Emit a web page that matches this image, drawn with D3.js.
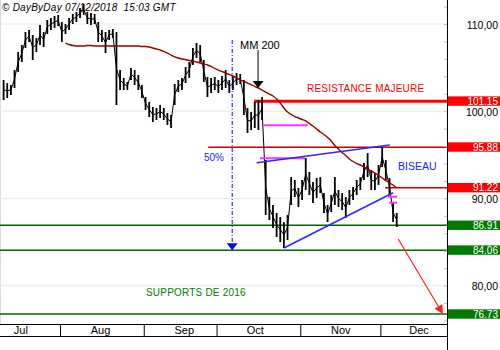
<!DOCTYPE html>
<html>
<head>
<meta charset="utf-8">
<script src="https://cdn.jsdelivr.net/npm/d3@7"></script>
<style>
body { margin: 0; background: #fff; }
svg { display: block; font-family: "Liberation Sans", Arial, sans-serif; }
</style>
</head>
<body>
<svg id="chart" width="500" height="350"></svg>
<script>
// daily bars, 10 Jul 2018 -> 7 Dec 2018 (trading day index)
var highs = [
	103.58, 103.23, 103.00, 104.72, 106.79, 107.59, 109.08, 109.31, 108.74, 108.39,
	109.89, 109.08, 110.46, 110.69, 110.92, 111.03, 110.23, 110.00, 110.69, 111.15,
	111.38, 111.83, 112.29, 111.38, 111.26, 111.15, 110.23, 109.31, 109.08, 109.31,
	109.43, 109.08, 104.72, 103.81, 103.35, 104.95, 104.72, 104.15, 103.00, 101.63,
	101.06, 100.48, 100.37, 100.71, 100.37, 99.79, 99.56, 103.12, 103.58, 103.81,
	105.07, 105.64, 107.25, 107.82, 107.59, 105.87, 103.92, 103.81, 103.92, 103.58,
	104.04, 104.72, 103.58, 104.04, 104.38, 104.27, 103.58, 100.37, 99.91, 101.06,
	101.28, 101.63, 94.40, 90.16, 89.24, 88.33, 87.87, 87.29, 88.10, 92.45,
	92.11, 91.19, 92.11, 94.63, 93.03, 91.88, 92.34, 92.45, 90.62, 89.24,
	90.39, 92.45, 90.96, 90.62, 90.16, 90.96, 91.31, 92.11, 92.45, 94.06,
	95.21, 93.26, 92.91, 93.83, 95.89, 94.40, 92.34, 89.47, 88.33
];
var lows = [
	101.28, 101.51, 101.86, 102.66, 104.50, 105.64, 107.25, 107.94, 105.87, 106.79,
	107.59, 107.36, 108.85, 109.31, 109.54, 109.77, 107.94, 108.85, 109.31, 110.00,
	110.23, 110.69, 111.03, 110.00, 109.89, 110.00, 107.94, 107.94, 106.67, 108.17,
	108.39, 100.71, 102.43, 102.43, 102.43, 103.58, 103.00, 102.43, 101.51, 100.14,
	99.33, 98.76, 98.99, 99.22, 98.99, 98.42, 98.07, 100.71, 102.20, 102.43,
	103.23, 103.81, 105.30, 106.10, 105.64, 103.35, 101.63, 102.09, 102.43, 102.09,
	102.43, 102.66, 102.09, 102.43, 103.00, 103.12, 99.56, 97.50, 97.84, 98.07,
	97.84, 98.99, 88.10, 87.52, 86.61, 85.57, 85.00, 84.31, 85.23, 89.24,
	90.16, 89.01, 89.82, 90.96, 90.39, 89.47, 90.05, 90.62, 88.33, 87.29,
	88.44, 89.24, 89.01, 88.67, 87.75, 89.24, 89.82, 90.39, 90.96, 92.11,
	92.45, 90.96, 90.96, 91.54, 93.60, 92.11, 90.39, 87.29, 86.72
];

// MM 200, from bar 17 on
var maStart = 17;
var ma200 = [
	107.82, 107.65, 107.53, 107.48, 107.48, 107.48, 107.53, 107.53, 107.48, 107.48,
	107.48, 107.48, 107.48, 107.48, 107.48, 107.48, 107.48, 107.48, 107.48, 107.48,
	107.48, 107.42, 107.42, 107.36, 107.25, 107.13, 107.02, 106.85, 106.67, 106.44,
	106.22, 106.10, 105.99, 105.93, 105.81, 105.76, 105.64, 105.53, 105.41, 105.30,
	105.13, 104.90, 104.72, 104.55, 104.38, 104.21, 104.04, 103.81, 103.58, 103.41,
	103.23, 103.06, 102.83, 102.66, 102.43, 102.20, 101.97, 101.74, 101.40, 100.94,
	100.37, 99.91, 99.62, 99.39, 99.22, 99.05, 98.88, 98.59, 98.30, 97.96,
	97.61, 97.33, 96.98, 96.58, 96.06, 95.67, 95.26, 94.92, 94.52, 94.23,
	94.00, 93.83, 93.60, 93.37, 93.14, 92.91, 92.63, 92.34, 92.05, 91.77,
	91.54, 91.19
];

var gridLevels = [80, 90, 100, 110];
var resistLevels = [101.15, 95.88, 91.22];
var resistFrom = [68.8, 56.2, 104.8];
var supportLevels = [86.91, 84.06, 76.73];

var monthBreaks = [15.5, 38.5, 58.5, 81.5, 103.5];
var monthLabelAt = [4.6, 26.5, 49.5, 69, 92.5, 114];
var monthNames = ["Jul", "Aug", "Sep", "Oct", "Nov", "Dec"];

// drawn annotations: [index, value]
var wedgeTop = [[69.5, 94.09], [106.1, 96.12]];
var wedgeBottom = [[77.0, 84.31], [107.0, 90.65]];
var pinkMarks = [[71.3, 83.6, 98.38], [70.4, 82.8, 94.60], [105.6, 108.1, 90.19], [105.9, 108.1, 89.51]];
var halfLine = [62.8, 108.17, 84.06];
var maArrow = [69.9, 107.02, 102.66];
var targetArrow = [[108.4, 85.34], [120.7, 76.73]];

var W = 447, axisTop = 324;

var svg = d3.select("#chart");
var x = d3.scaleLinear().domain([0, 122]).range([3.6, 447.7]);
var y = d3.scaleLinear().domain([80, 110]).range([285.6, 24]);

svg.append("defs").append("clipPath").attr("id", "clip")
	.append("rect").attr("x", 0).attr("y", 0).attr("width", W).attr("height", axisTop);

svg.append("line").attr("x1", 0.5).attr("x2", 0.5).attr("y1", 0).attr("y2", axisTop)
	.attr("stroke", "#dcdcdc");

var plot = svg.append("g").attr("clip-path", "url(#clip)");

plot.selectAll(".grid").data(gridLevels).enter().append("line")
	.attr("x1", 0).attr("x2", W)
	.attr("y1", function(d) { return y(d); }).attr("y2", function(d) { return y(d); })
	.attr("stroke", "#dcf5d5").attr("stroke-width", 1);

// supports
plot.selectAll(".sup").data(supportLevels).enter().append("line")
	.attr("x1", 0).attr("x2", W)
	.attr("y1", function(d) { return y(d); }).attr("y2", function(d) { return y(d); })
	.attr("stroke", "#006600").attr("stroke-width", 1.5);

// resistances
plot.selectAll(".res").data(resistLevels).enter().append("line")
	.attr("x1", function(d, i) { return x(resistFrom[i]); }).attr("x2", W)
	.attr("y1", function(d) { return y(d); }).attr("y2", function(d) { return y(d); })
	.attr("stroke", function(d, i) { return i == 0 ? "#ff0000" : "#cc0000"; })
	.attr("stroke-width", function(d, i) { return i == 0 ? 3 : 1.5; });

// price bars
plot.append("path")
	.datum(highs)
	.attr("fill", "none").attr("stroke", "#000").attr("stroke-width", 1)
	.attr("d", d3.line()
		.x(function(d, i) { return x(i); })
		.y(function(d, i) { return y((d + lows[i]) / 2); }));

plot.selectAll(".bar").data(highs).enter().append("line")
	.attr("x1", function(d, i) { return x(i); }).attr("x2", function(d, i) { return x(i); })
	.attr("y1", function(d) { return y(d); })
	.attr("y2", function(d, i) { return y(lows[i]); })
	.attr("stroke", "#000").attr("stroke-width", 1.8);

// MM 200
plot.append("path")
	.datum(ma200)
	.attr("fill", "none").attr("stroke", "#990000").attr("stroke-width", 1.4)
	.attr("d", d3.line()
		.x(function(d, i) { return x(i + maStart); })
		.y(function(d) { return y(d); })
		.curve(d3.curveMonotoneX));

// magenta marks
plot.selectAll(".pink").data(pinkMarks).enter().append("line")
	.attr("x1", function(d) { return x(d[0]); }).attr("x2", function(d) { return x(d[1]); })
	.attr("y1", function(d) { return y(d[2]); }).attr("y2", function(d) { return y(d[2]); })
	.attr("stroke", "#ff33ff").attr("stroke-width", 2);

// biseau
[wedgeTop, wedgeBottom].forEach(function(seg) {
	plot.append("line")
		.attr("x1", x(seg[0][0])).attr("y1", y(seg[0][1]))
		.attr("x2", x(seg[1][0])).attr("y2", y(seg[1][1]))
		.attr("stroke", "#2a2aff").attr("stroke-width", 1.5);
});

function tri(cx, tipY, w, h, col) {
	plot.append("path")
		.attr("d", "M" + (cx - w / 2) + "," + (tipY - h) + "L" + (cx + w / 2) + "," + (tipY - h) + "L" + cx + "," + tipY + "Z")
		.attr("fill", col);
}

// 50% projection
plot.append("line")
	.attr("x1", x(halfLine[0])).attr("x2", x(halfLine[0]))
	.attr("y1", y(halfLine[1])).attr("y2", y(halfLine[2]) - 5)
	.attr("stroke", "#0000ff").attr("stroke-width", 1).attr("stroke-dasharray", "4,2,1,2");
tri(x(halfLine[0]), y(halfLine[2]), 11, 7, "#0000ff");

// MM 200 arrow
plot.append("line")
	.attr("x1", x(maArrow[0])).attr("x2", x(maArrow[0]))
	.attr("y1", y(maArrow[1])).attr("y2", y(maArrow[2]) - 5)
	.attr("stroke", "#000").attr("stroke-width", 1);
tri(x(maArrow[0]), y(maArrow[2]), 11, 7, "#000");

// target arrow
var ax1 = x(targetArrow[0][0]), ay1 = y(targetArrow[0][1]);
var ax2 = x(targetArrow[1][0]), ay2 = y(targetArrow[1][1]);
var ang = Math.atan2(ay2 - ay1, ax2 - ax1);
plot.append("line").attr("x1", ax1).attr("y1", ay1).attr("x2", ax2 - 6 * Math.cos(ang)).attr("y2", ay2 - 6 * Math.sin(ang))
	.attr("stroke", "#ff2020").attr("stroke-width", 1.2);
plot.append("path")
	.attr("d", "M0,0L-9,-4.5L-9,4.5Z")
	.attr("transform", "translate(" + ax2 + "," + ay2 + ") rotate(" + (ang * 180 / Math.PI) + ")")
	.attr("fill", "#ff2020");

// texts
function label(txt, tx, ty, col, size, ls) {
	svg.append("text").attr("x", tx).attr("y", ty).attr("fill", col)
		.attr("font-size", size).attr("letter-spacing", ls).text(txt);
}
label("MM 200", 240, 49, "#000", 11, 0);
label("RESISTANCE MAJEURE", 307, 92, "#ff0000", 10, 0.2);
label("BISEAU", 398, 169.5, "#2020ff", 10.5, 0);
label("50%", 204, 161, "#2020ff", 10, 0);
label("SUPPORTS DE 2016", 146, 295.5, "#008000", 10, 0.2);
svg.append("text").attr("x", 2).attr("y", 10.5).attr("font-size", 10)
	.attr("font-style", "italic").attr("fill", "#000").attr("letter-spacing", 0.25)
	.text("\u00a9 DayByDay 07/12/2018  15:03 GMT").style("white-space", "pre");

// right axis
var fmtAxis = function(d) { return d3.format(".2f")(d).replace(".", ","); };
var minor = svg.append("g").attr("transform", "translate(" + W + ",0)")
	.call(d3.axisRight(y).tickValues(d3.range(76, 114, 2)).tickSize(-3).tickFormat(""));
minor.select(".domain").remove();
minor.selectAll("line").attr("stroke", "#bbb");

var yAx = svg.append("g").attr("transform", "translate(" + W + ",0)")
	.call(d3.axisRight(y).tickValues(gridLevels).tickSize(0).tickFormat(fmtAxis));
yAx.select(".domain").remove();
yAx.selectAll("text").attr("x", 51).attr("text-anchor", "end").attr("dy", "0.4em")
	.attr("font-size", 10.5).attr("font-family", "Liberation Sans, Arial, sans-serif").attr("fill", "#000");

svg.append("line").attr("x1", W + 0.5).attr("x2", W + 0.5).attr("y1", 0).attr("y2", 350)
	.attr("stroke", "#000");

// level boxes
var allLevels = resistLevels.concat(supportLevels);
var boxes = svg.selectAll(".box").data(allLevels).enter().append("g")
	.attr("transform", function(d) { return "translate(" + (W + 1) + "," + y(d) + ")"; });
boxes.append("rect").attr("x", 0).attr("y", -4.8).attr("width", 52).attr("height", 9.4)
	.attr("fill", function(d, i) { return i < 3 ? "#ff0000" : "#007a00"; });
boxes.append("text").attr("x", 50).attr("y", 3.6).attr("text-anchor", "end")
	.attr("font-size", 10).attr("fill", "#fff")
	.text(function(d) { return d3.format(".2f")(d); });

// bottom axis
var xAx = svg.append("g").attr("transform", "translate(0," + axisTop + ".5)")
	.call(d3.axisBottom(x).tickValues(monthBreaks).tickSize(12).tickSizeOuter(0).tickFormat(""));
xAx.select(".domain").attr("d", "M0,0H" + W);
xAx.selectAll("line").attr("stroke", "#000");
svg.append("line").attr("x1", 0).attr("x2", W).attr("y1", 336.5).attr("y2", 336.5).attr("stroke", "#000");

var xLab = svg.append("g").attr("transform", "translate(0," + axisTop + ")")
	.call(d3.axisBottom(x).tickValues(monthLabelAt).tickSize(0).tickPadding(2)
		.tickFormat(function(d, i) { return monthNames[i]; }));
xLab.select(".domain").remove();
xLab.selectAll("text").attr("font-size", 11).attr("font-family", "Liberation Sans, Arial, sans-serif").attr("fill", "#000");
</script>
</body>
</html>
